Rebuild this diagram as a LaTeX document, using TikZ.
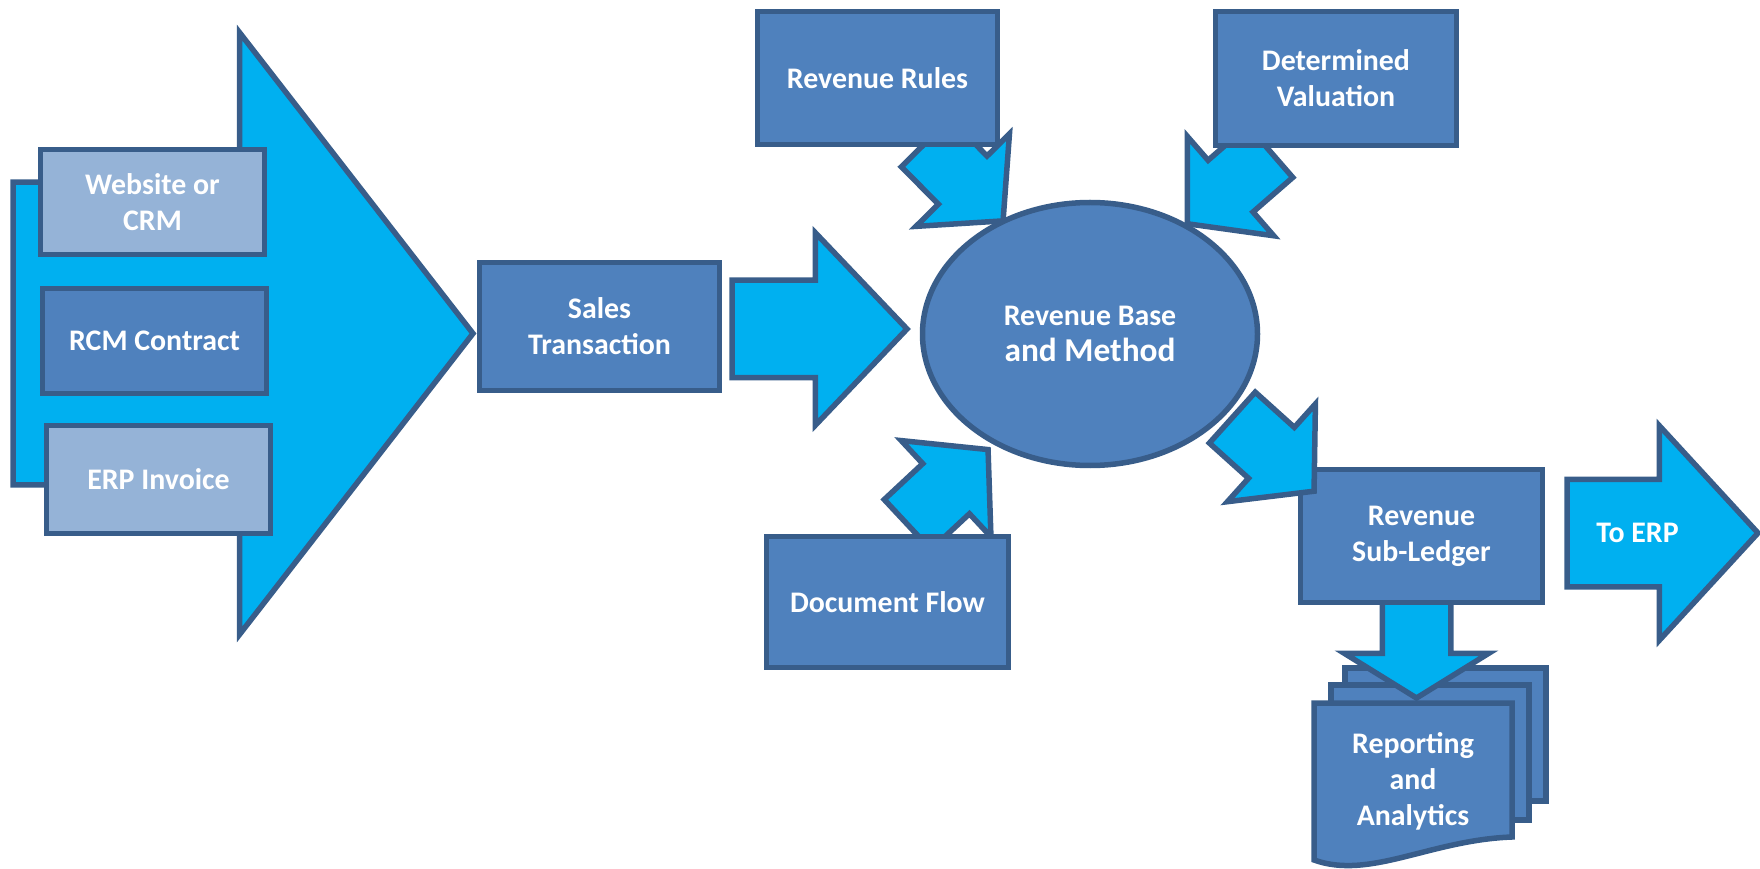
\documentclass[tikz,border=0pt]{standalone}
\usepackage{fontspec}
\setmainfont{Carlito}
\usetikzlibrary{shapes.geometric}
\usetikzlibrary{shapes.arrows}
\definecolor{arrowcyan}{HTML}{00B0F0}
\definecolor{boxblue}{HTML}{4F81BD}
\definecolor{paleblue}{HTML}{95B3D7}
\definecolor{edgeblue}{HTML}{385D8A}
\tikzset{
    boxtext/.style = {text=white, font=\bfseries\fontsize{8.5}{10.2}\selectfont, align=center},
    procbox/.style = {rectangle, draw=edgeblue, fill=boxblue, line width=0.55mm, boxtext},
    srcbox/.style = {procbox, fill=paleblue},
    hub/.style = {ellipse, draw=edgeblue, fill=boxblue, line width=0.55mm, boxtext, inner sep=0pt},
    fatarrow/.style = {single arrow, draw=edgeblue, fill=arrowcyan, line width=0.55mm, inner xsep=0pt, outer sep=0pt, single arrow head indent=0pt, anchor=tail},
    bentarrow/.style = {fatarrow, inner ysep=0.315cm, single arrow head extend=0.315cm, single arrow tip angle=97.8, minimum height=1.1cm},
    page/.style = {draw=edgeblue, fill=boxblue, line width=0.55mm}}

\begin{document}
\begin{tikzpicture}
        \useasboundingbox (0,0) rectangle (17.6,-8.69);
        \node[fatarrow, inner ysep=1.485cm, single arrow head extend=1.495cm, single arrow tip angle=104.4, minimum height=4.6cm] (feed) at (0.13,-3.335) {};
        \node[srcbox, minimum width=2.24cm, minimum height=1.05cm] (web) at (1.525,-2.02) {Website or\\CRM};
        \node[procbox, minimum width=2.24cm, minimum height=1.05cm] (rcm) at (1.545,-3.41) {RCM Contract};
        \node[srcbox, minimum width=2.24cm, minimum height=1.08cm] (erp) at (1.585,-4.795) {ERP Invoice};
        \node[procbox, minimum width=2.4cm, minimum height=1.28cm] (sales) at (5.995,-3.265) {Sales\\Transaction};
        \node[fatarrow, inner ysep=0.46cm, single arrow head extend=0.475cm, single arrow tip angle=92.8, minimum height=1.75cm] (salesarrow) at (7.32,-3.29) {};
        \node[bentarrow, rotate=-45.3] (rulesarrow) at (9.257,-1.427) {};
        \node[bentarrow, rotate=-139] (valarrow) at (12.703,-1.516) {};
        \node[bentarrow, rotate=43] (flowarrow) at (9.076,-5.246) {};
        \node[procbox, minimum width=2.4cm, minimum height=1.33cm] (rules) at (8.775,-0.78) {Revenue Rules};
        \node[procbox, minimum width=2.41cm, minimum height=1.34cm] (valuation) at (13.36,-0.785) {Determined\\Valuation};
        \node[procbox, minimum width=2.42cm, minimum height=1.31cm] (flow) at (8.875,-6.02) {Document Flow};
        \node[hub, minimum width=3.35cm, minimum height=2.63cm] (base) at (10.9,-3.34) {Revenue Base\\{\fontsize{9.5}{10.2}\selectfont and Method}};
        \draw[page] (13.45,-6.68) rectangle (15.46,-8.01);
        \draw[page] (13.31,-6.85) rectangle (15.29,-8.2);
        \draw[page] (13.14,-7.03) -- (15.12,-7.03) -- (15.12,-8.37)
            .. controls (14.3,-8.4) and (13.7,-8.8) .. (13.14,-8.6) -- cycle;
        \node[boxtext] (report) at (14.13,-7.81) {Reporting\\and\\Analytics};
        \node[fatarrow, rotate=-90, inner ysep=0.315cm, single arrow head extend=0.38cm, single arrow tip angle=116.5, minimum height=0.98cm] (reportarrow) at (14.165,-6.0) {};
        \node[procbox, minimum width=2.42cm, minimum height=1.33cm] (ledger) at (14.215,-5.36) {Revenue\\Sub-Ledger};
        \node[bentarrow, rotate=-42] (ledgerarrow) at (12.323,-4.176) {};
        \node[fatarrow, inner ysep=0.51cm, single arrow head extend=0.535cm, single arrow tip angle=94.8, minimum height=1.91cm] (toerp) at (15.67,-5.33) {};
        \node[boxtext] (toerptext) at (16.375,-5.33) {To ERP};
\end{tikzpicture}
\end{document}
